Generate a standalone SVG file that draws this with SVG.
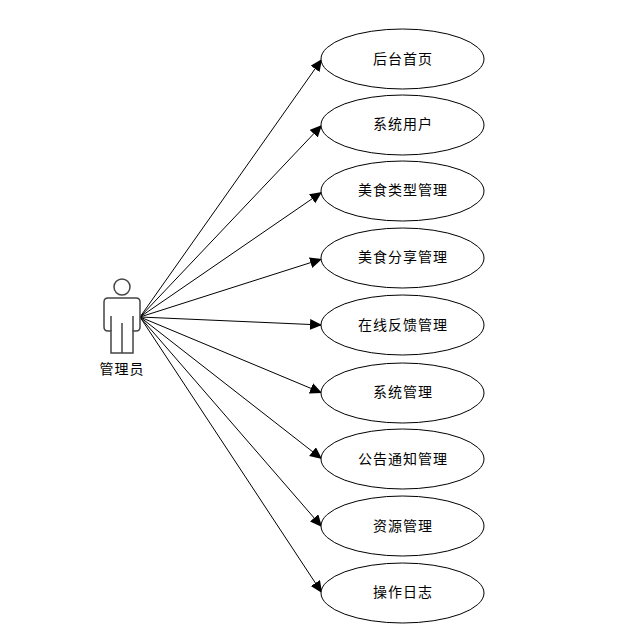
<svg xmlns="http://www.w3.org/2000/svg" width="620" height="631" viewBox="0 0 620 631">
<style>
.n{fill:#fff;stroke:#000;stroke-width:1}
.t{font-family:"Noto Sans CJK SC","Liberation Sans",sans-serif;font-size:14px;letter-spacing:1px;fill:#000;text-anchor:middle}
.c{stroke:#000;stroke-width:1;fill:none;marker-end:url(#a)}
.p{fill:#fff;stroke:#444;stroke-width:1.500}
</style>
<defs><marker id="a" markerUnits="userSpaceOnUse" markerWidth="13" markerHeight="12" refX="12" refY="5.500" orient="auto"><path d="M0 0L12 5.500L0 11Z" fill="#000"/></marker></defs>
<rect width="620" height="631" fill="#fff"/>
<g id="connectors">
<path class="c" d="M140 317L322 59"/>
<path class="c" d="M140 317L322 125"/>
<path class="c" d="M140 317L322 192"/>
<path class="c" d="M140 317L322 259"/>
<path class="c" d="M140 317L322 325"/>
<path class="c" d="M140 317L322 393"/>
<path class="c" d="M140 317L322 459"/>
<path class="c" d="M140 317L322 527"/>
<path class="c" d="M140 317L322 593"/>
</g>
<g id="actor">
<circle class="p" cx="122" cy="287" r="8"/>
<path class="p" d="M108 298H136Q140 298 140 302V327Q140 331 136 331H133V353H111V331H108Q104 331 104 327V302Q104 298 108 298Z"/>
<path class="p" fill="none" d="M111 316V331M133 316V331M122 323V353"/>
<text class="t" x="122" y="374">管理员</text>
</g>
<g id="n1"><ellipse class="n" cx="402.500" cy="59" rx="81.500" ry="30"/><text class="t" x="403" y="64">后台首页</text></g>
<g id="n2"><ellipse class="n" cx="402.500" cy="125" rx="81.500" ry="30"/><text class="t" x="403" y="129">系统用户</text></g>
<g id="n3"><ellipse class="n" cx="402.500" cy="191" rx="81.500" ry="30"/><text class="t" x="403" y="195">美食类型管理</text></g>
<g id="n4"><ellipse class="n" cx="402.500" cy="258" rx="81.500" ry="30"/><text class="t" x="403" y="262">美食分享管理</text></g>
<g id="n5"><ellipse class="n" cx="402.500" cy="325" rx="81.500" ry="30"/><text class="t" x="403" y="330">在线反馈管理</text></g>
<g id="n6"><ellipse class="n" cx="402.500" cy="393" rx="81.500" ry="30"/><text class="t" x="403" y="397">系统管理</text></g>
<g id="n7"><ellipse class="n" cx="402.500" cy="459" rx="81.500" ry="30"/><text class="t" x="403" y="464">公告通知管理</text></g>
<g id="n8"><ellipse class="n" cx="402.500" cy="526" rx="81.500" ry="30"/><text class="t" x="403" y="531">资源管理</text></g>
<g id="n9"><ellipse class="n" cx="402.500" cy="593" rx="81.500" ry="30"/><text class="t" x="403" y="597">操作日志</text></g>
</svg>
